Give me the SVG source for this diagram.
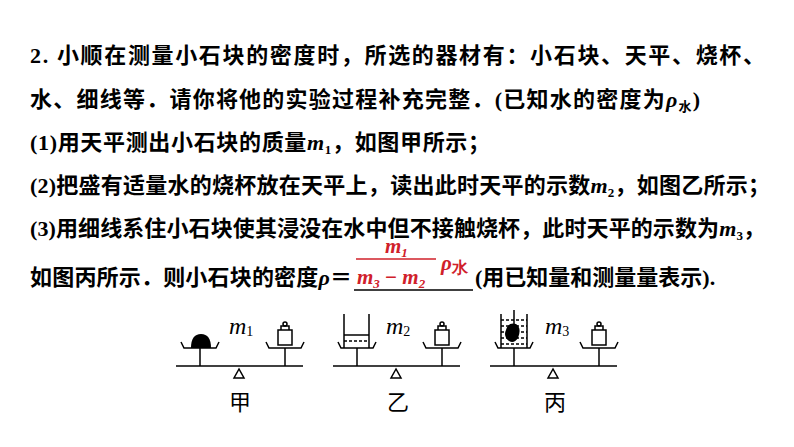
<svg xmlns="http://www.w3.org/2000/svg" width="794" height="447" viewBox="0 0 794 447">
<style>
.t{font-family:"Liberation Serif","Noto Sans CJK SC",serif;font-size:22px;font-weight:bold;fill:#000}
.r{font-family:"Liberation Serif",serif;font-size:21px;font-weight:bold;font-style:italic;fill:#d0202a}
.th{stroke:#000;stroke-width:1.5;fill:none}
.ml{font-family:"Liberation Serif",serif;font-size:24px;font-style:italic}
.cap{font-family:"Noto Sans CJK SC",serif;font-size:22px}
</style>
<defs>
<g id="pan"><path class="th" d="M-19,-24 L-16,-18 L16,-18 L19,-24"/><line class="th" x1="0" y1="-18" x2="0" y2="0"/></g>
<g id="wt"><rect class="th" x="-7" y="-36" width="14" height="15" fill="#fff"/><path class="th" d="M-4,-36 L-4,-40 L4,-40 L4,-36"/><circle class="th" cx="0" cy="-42" r="2"/></g>
<g id="beam"><line class="th" x1="0" y1="0" x2="127" y2="0"/><path class="th" d="M63,3 L58,12 L68,12 Z"/></g>
</defs>
<g id="text">
<text class="t" x="30" y="63" textLength="735">2. 小顺在测量小石块的密度时，所选的器材有：小石块、天平、烧杯、</text>
<text class="t" x="30" y="107" textLength="670">水、细线等．请你将他的实验过程补充完整．(已知水的密度为<tspan font-style="italic">ρ</tspan><tspan font-size="13" dy="4">水</tspan><tspan dy="-4">)</tspan></text>
<text class="t" x="30" y="150" textLength="460">(1)用天平测出小石块的质量<tspan font-style="italic">m</tspan><tspan font-size="13" dy="4">1</tspan><tspan dy="-4">，如图甲所示；</tspan></text>
<text class="t" x="30" y="193" textLength="740">(2)把盛有适量水的烧杯放在天平上，读出此时天平的示数<tspan font-style="italic">m</tspan><tspan font-size="13" dy="4">2</tspan><tspan dy="-4">，如图乙所示；</tspan></text>
<text class="t" x="30" y="236" textLength="735">(3)用细线系住小石块使其浸没在水中但不接触烧杯，此时天平的示数为<tspan font-style="italic">m</tspan><tspan font-size="13" dy="4">3</tspan><tspan dy="-4">，</tspan></text>
<text class="t" x="30" y="285" textLength="322">如图丙所示．则小石块的密度<tspan font-style="italic">ρ</tspan>＝</text>
<line x1="354" y1="290" x2="473" y2="290" stroke="#000" stroke-width="1.3"/>
<text class="t" x="475" y="285">(用已知量和测量量表示).</text>
</g>
<g id="answer">
<text class="r" x="385" y="253">m<tspan font-size="13" dy="4">1</tspan></text>
<line x1="356" y1="259" x2="436" y2="259" stroke="#d0202a" stroke-width="1.5"/>
<text class="r" x="357" y="284">m<tspan font-size="13" dy="4">3</tspan><tspan dy="-4" font-style="normal"> − </tspan>m<tspan font-size="13" dy="4">2</tspan></text>
<text class="r" x="441" y="270" font-size="24">ρ<tspan font-size="16" font-style="normal" dy="3">水</tspan></text>
</g>
<g id="fig1">
<use href="#beam" x="176" y="366"/>
<use href="#pan" x="200" y="366"/><use href="#pan" x="285" y="366"/>
<path d="M191,348 Q191,334 201,334 Q211,334 211,348 Z" fill="#000"/>
<use href="#wt" x="285" y="366"/>
<text class="ml" x="229" y="334">m<tspan font-size="14" dy="2" font-style="normal">1</tspan></text>
<text class="cap" x="229" y="410">甲</text>
</g>
<g id="fig2">
<use href="#beam" x="333" y="366"/>
<use href="#pan" x="357" y="366"/><use href="#pan" x="442" y="366"/>
<path class="th" d="M344,314 L344,348 M369,314 L369,348"/>
<line class="th" x1="344" y1="335" x2="369" y2="335"/>
<line class="th" x1="344" y1="341" x2="369" y2="341" stroke-dasharray="3,2"/>
<use href="#wt" x="442" y="366"/>
<text class="ml" x="386" y="334">m<tspan font-size="14" dy="2" font-style="normal">2</tspan></text>
<text class="cap" x="387" y="410">乙</text>
</g>
<g id="fig3">
<use href="#beam" x="490" y="366"/>
<use href="#pan" x="514" y="366"/><use href="#pan" x="599" y="366"/>
<path class="th" d="M501,314 L501,348 M527,314 L527,348"/>
<path class="th" d="M501,320 L527,320 M501,326 L527,326 M501,332 L527,332 M501,338 L527,338 M501,344 L527,344" stroke-dasharray="3,2"/>
<line class="th" x1="514" y1="310" x2="514" y2="326"/>
<path d="M506,330 Q508,322 516,324 Q522,328 518,338 Q514,344 509,341 Q503,336 506,330 Z" fill="#000"/>
<use href="#wt" x="599" y="366"/>
<text class="ml" x="545" y="334">m<tspan font-size="14" dy="2" font-style="normal">3</tspan></text>
<text class="cap" x="544" y="410">丙</text>
</g>
</svg>
